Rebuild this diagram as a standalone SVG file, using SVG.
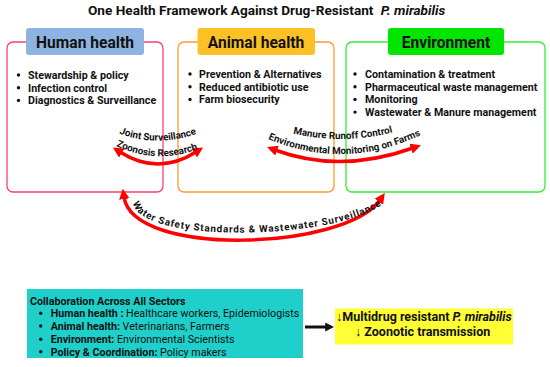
<svg xmlns="http://www.w3.org/2000/svg" width="550" height="367" viewBox="0 0 550 367">
<defs>
<style>
text{font-family:Roboto,"Liberation Sans",sans-serif;fill:#111;}
.b{font-weight:bold;}
.title{font-size:13.6px;font-weight:bold;}
.lab{font-size:15.6px;font-weight:bold;text-anchor:middle;}
.item{font-size:10.7px;font-weight:bold;}
.arc{font-size:9.8px;font-weight:bold;}
.red{fill:none;stroke:#ff0000;stroke-width:3.5;}
.dot{fill:#111;}
</style>
<marker id="rh" viewBox="0 0 10 10" refX="2" refY="5" markerWidth="3" markerHeight="3" orient="auto-start-reverse" markerUnits="strokeWidth">
<path d="M0,0 L10,5 L0,10 z" fill="#ff0000"/>
</marker>
<marker id="bh" viewBox="0 0 10 10" refX="2" refY="5" markerWidth="3" markerHeight="3" orient="auto" markerUnits="strokeWidth">
<path d="M0,0 L10,5 L0,10 z" fill="#111"/>
</marker>
<path id="t1" d="M119,133.5 Q158,148 199,133"/>
<path id="t2" d="M116,146 Q159,166 203,147"/>
<path id="t3" d="M293,133.5 Q342,145 392,132.5"/>
<path id="t4" d="M268,139 Q345,171 421,135"/>
<path id="t5" d="M133,203 C140,245 340,240 384,203"/>
</defs>
<rect width="550" height="367" fill="#fff"/>
<text class="title" x="88" y="15">One Health Framework Against Drug-Resistant <tspan dx="4" font-style="italic">P. mirabilis</tspan></text>

<g id="human">
<rect x="7" y="42" width="156" height="150" rx="6" fill="none" stroke="#ff3d6e" stroke-width="1.3"/>
<rect x="26" y="28" width="118" height="27" rx="3" fill="#8fb3e0"/>
<text class="lab" x="85" y="47.5">Human health</text>
<circle class="dot" cx="18.5" cy="75" r="1.7"/><text class="item" x="28" y="79">Stewardship &amp; policy</text>
<circle class="dot" cx="18.5" cy="87.7" r="1.7"/><text class="item" x="28" y="91.7">Infection control</text>
<circle class="dot" cx="18.5" cy="100.4" r="1.7"/><text class="item" x="28" y="104.4">Diagnostics &amp; Surveillance</text>
</g>

<g id="animal">
<rect x="178" y="42" width="156" height="150" rx="6" fill="none" stroke="#ff9933" stroke-width="1.3"/>
<rect x="197.5" y="28" width="117.5" height="27" rx="3" fill="#fdc125"/>
<text class="lab" x="256" y="47.5">Animal health</text>
<circle class="dot" cx="190" cy="74" r="1.7"/><text class="item" x="199" y="78">Prevention &amp; Alternatives</text>
<circle class="dot" cx="190" cy="86.7" r="1.7"/><text class="item" x="199" y="90.7">Reduced antibiotic use</text>
<circle class="dot" cx="190" cy="99.4" r="1.7"/><text class="item" x="199" y="103.4">Farm biosecurity</text>
</g>

<g id="environment">
<rect x="346" y="42" width="199" height="150" rx="6" fill="none" stroke="#33ee33" stroke-width="1.3"/>
<rect x="388" y="28" width="116" height="27" rx="3" fill="#00e600"/>
<text class="lab" x="446" y="47.5">Environment</text>
<circle class="dot" cx="355" cy="74" r="1.7"/><text class="item" x="365" y="78">Contamination &amp; treatment</text>
<circle class="dot" cx="355" cy="86.7" r="1.7"/><text class="item" x="365" y="90.7">Pharmaceutical waste management</text>
<circle class="dot" cx="355" cy="99.4" r="1.7"/><text class="item" x="365" y="103.4">Monitoring</text>
<circle class="dot" cx="355" cy="112.1" r="1.7"/><text class="item" x="365" y="116.1">Wastewater &amp; Manure management</text>
</g>

<g id="collaboration">
<rect x="27" y="289" width="276" height="69" fill="#1fcfc9"/>
<text class="item" x="30" y="304.8">Collaboration Across All Sectors</text>
<circle class="dot" cx="40.7" cy="313.3" r="1.7"/><text x="50.7" y="317.2" font-size="10.7"><tspan class="b">Human health :</tspan> Healthcare workers, Epidemiologists</text>
<circle class="dot" cx="40.7" cy="326" r="1.7"/><text x="50.7" y="329.9" font-size="10.7"><tspan class="b">Animal health:</tspan> Veterinarians, Farmers</text>
<circle class="dot" cx="40.7" cy="339.3" r="1.7"/><text x="50.7" y="343.2" font-size="10.7"><tspan class="b">Environment:</tspan> Environmental Scientists</text>
<circle class="dot" cx="40.7" cy="351.7" r="1.7"/><text x="50.7" y="355.6" font-size="10.7"><tspan class="b">Policy &amp; Coordination:</tspan> Policy makers</text>
</g>

<g id="outcome">
<rect x="335" y="308.5" width="178" height="36" fill="#ffff33"/>
<text x="336" y="321" font-size="12.5" class="b">↓Multidrug resistant <tspan font-style="italic">P. mirabilis</tspan></text>
<text x="355" y="336" font-size="12.5" class="b">↓ Zoonotic transmission</text>
</g>

<g id="connectors">
<path class="red" d="M120,152 Q158,176 196,152" marker-start="url(#rh)" marker-end="url(#rh)"/>
<path class="red" d="M275,150 Q340,174 413,148" marker-start="url(#rh)" marker-end="url(#rh)"/>
<path class="red" d="M124,197 C133,258 345,250 380,200" marker-start="url(#rh)" marker-end="url(#rh)"/>
<line x1="305" y1="327" x2="327" y2="327" stroke="#111" stroke-width="3" marker-end="url(#bh)"/>
<text class="arc"><textPath href="#t1">Joint Surveillance</textPath></text>
<text class="arc"><textPath href="#t2">Zoonosis Research</textPath></text>
<text class="arc"><textPath href="#t3">Manure Runoff Control</textPath></text>
<text class="arc"><textPath href="#t4">Environmental Monitoring on Farms</textPath></text>
<text class="arc" font-size="11"><textPath href="#t5" textLength="262" lengthAdjust="spacing">Water Safety Standards &amp; Wastewater Surveillance</textPath></text>
</g>
</svg>
